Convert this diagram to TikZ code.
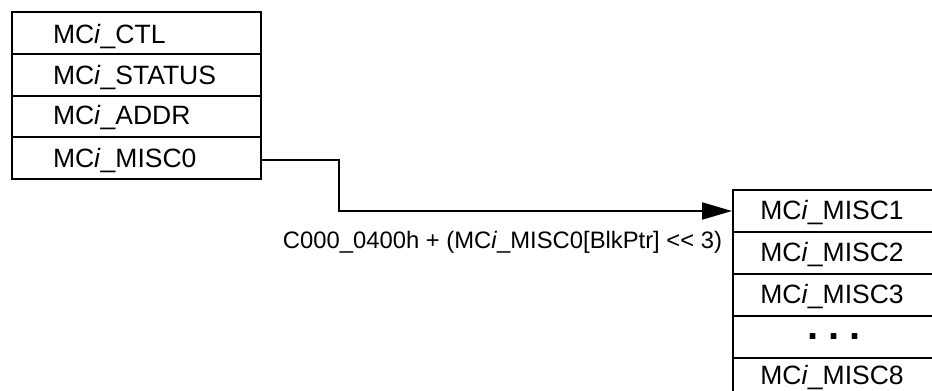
\documentclass[tikz,border=0pt]{standalone}
\usepackage{fontspec}
\setmainfont{Liberation Sans}
\usetikzlibrary{arrows.meta}
\begin{document}
\begin{tikzpicture}[x=1pt,y=-1pt,line width=2pt,
  lrow/.style={draw,rectangle,minimum width=249pt,minimum height=41.75pt,inner sep=0pt,anchor=north west},
  rrow/.style={draw,rectangle,minimum width=202pt,minimum height=42pt,inner sep=0pt,anchor=north west},
  ltxt/.style={font=\fontsize{26.5}{30}\selectfont,anchor=base west,inner sep=0pt},
  rtxt/.style={font=\fontsize{26.5}{30}\selectfont,anchor=base,inner sep=0pt},
  lbl/.style={font=\fontsize{23.8}{28}\selectfont,anchor=base,inner sep=0pt}]
\useasboundingbox (0,0) rectangle (932,391);
% left register block
\node[lrow] (l1) at (11,11) {};
\node[lrow] (l2) at (11,52.75) {};
\node[lrow] (l3) at (11,94.5) {};
\node[lrow] (l4) at (11,136.25) {};
\node[ltxt] (t1) at (52,43) {MC\textit{i}\_CTL};
\node[ltxt] (t2) at (52,84) {MC\textit{i}\_STATUS};
\node[ltxt] (t3) at (52,124.5) {MC\textit{i}\_ADDR};
\node[ltxt] (t4) at (52,167) {MC\textit{i}\_MISC0};
% right register block
\node[rrow] (r1) at (732,189) {};
\node[rrow] (r2) at (732,231) {};
\node[rrow] (r3) at (732,273) {};
\node[rrow] (r4) at (732,315) {};
\node[rrow] (r5) at (732,357) {};
\node[rtxt] (u1) at (832,219.5) {MC\textit{i}\_MISC1};
\node[rtxt] (u2) at (832,261.5) {MC\textit{i}\_MISC2};
\node[rtxt] (u3) at (832,303.5) {MC\textit{i}\_MISC3};
\node[font=\fontsize{40}{44}\selectfont\bfseries,inner sep=0pt] (u4) at (834,336.5) {.\hspace{10pt}.\hspace{10pt}.};
\node[rtxt] (u5) at (832,384) {MC\textit{i}\_MISC8};
% connector
\coordinate (bend) at (339,160);
\draw[-{Triangle[length=30pt,width=17pt]}] (l4.east |- 0,160) -- (bend) -- (bend |- r1.west) -- (r1.west);
\node[lbl] (addr) at (502.5,248.3) {C000\_0400h + (MC\textit{i}\_MISC0[BlkPtr] <{}< 3)};
\end{tikzpicture}
\end{document}
